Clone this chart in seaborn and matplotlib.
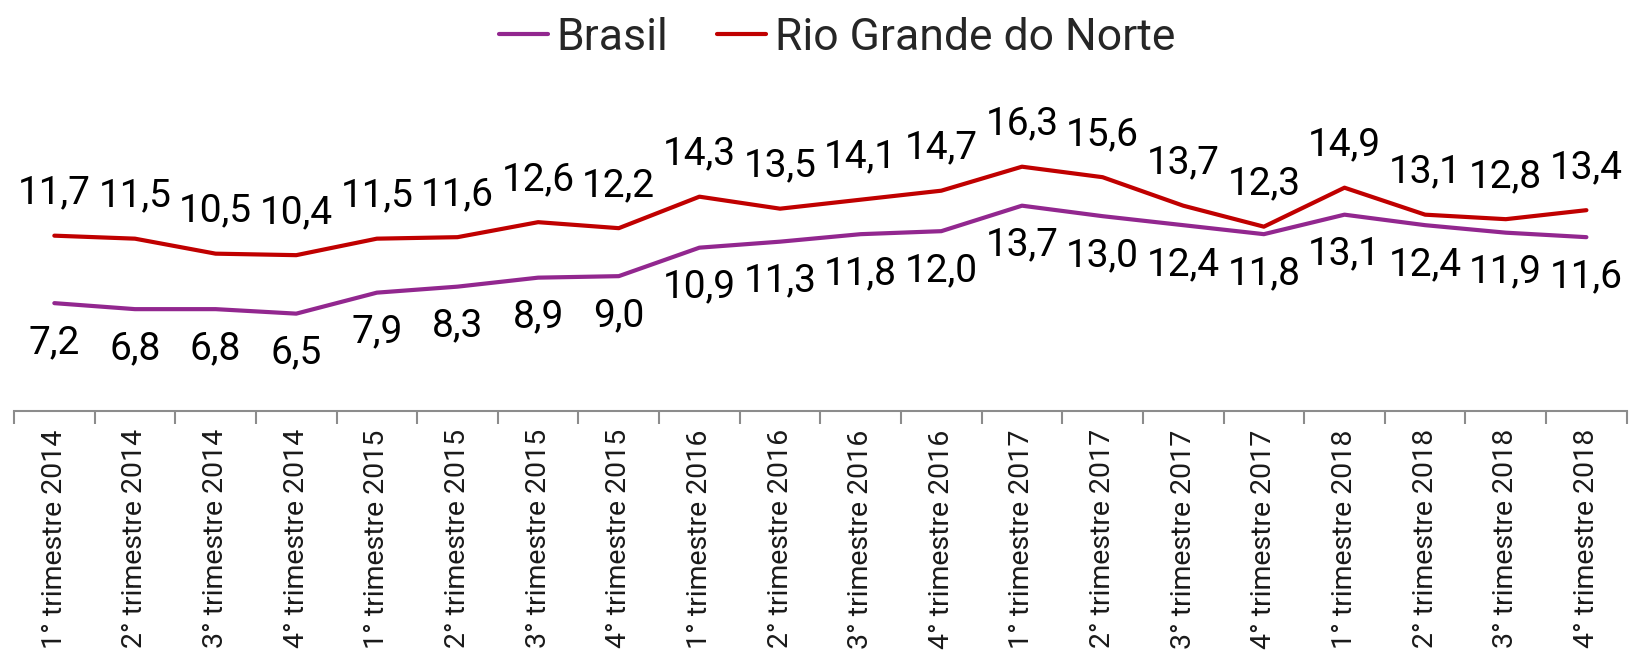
import matplotlib
matplotlib.use("Agg")
import matplotlib.pyplot as plt
import numpy as np
import pandas as pd
import seaborn as sns

quarters = [
    "1° trimestre 2014", "2° trimestre 2014", "3° trimestre 2014", "4° trimestre 2014",
    "1° trimestre 2015", "2° trimestre 2015", "3° trimestre 2015", "4° trimestre 2015",
    "1° trimestre 2016", "2° trimestre 2016", "3° trimestre 2016", "4° trimestre 2016",
    "1° trimestre 2017", "2° trimestre 2017", "3° trimestre 2017", "4° trimestre 2017",
    "1° trimestre 2018", "2° trimestre 2018", "3° trimestre 2018", "4° trimestre 2018",
]
brasil = [7.2, 6.8, 6.8, 6.5, 7.9, 8.3, 8.9, 9.0, 10.9, 11.3,
          11.8, 12.0, 13.7, 13.0, 12.4, 11.8, 13.1, 12.4, 11.9, 11.6]
rio_grande_do_norte = [11.7, 11.5, 10.5, 10.4, 11.5, 11.6, 12.6, 12.2, 14.3, 13.5,
                       14.1, 14.7, 16.3, 15.6, 13.7, 12.3, 14.9, 13.1, 12.8, 13.4]

series_names = ["Brasil", "Rio Grande do Norte"]
colors = {"Brasil": "#92278F", "Rio Grande do Norte": "#C00000"}

sns.set_theme(style="white")
plt.rcParams["font.family"] = ["Roboto", "DejaVu Sans"]

idx = np.arange(len(quarters))
df = pd.concat([
    pd.DataFrame({"pos": idx, "valor": brasil, "serie": "Brasil"}),
    pd.DataFrame({"pos": idx, "valor": rio_grande_do_norte, "serie": "Rio Grande do Norte"}),
])

fig = plt.figure(figsize=(16.29, 6.62), dpi=100)
ax = fig.add_axes([0.0086, 0.379, 0.990, 0.453])

sns.lineplot(data=df, x="pos", y="valor", hue="serie", hue_order=series_names,
             palette=colors, linewidth=3.0, ax=ax, legend=False)

def fmt(v):
    return f"{v:.1f}".replace(".", ",")

for x, v in zip(idx, rio_grande_do_norte):
    ax.annotate(fmt(v), (x, v), xytext=(0, 23), textcoords="offset points",
                ha="center", va="baseline", fontsize=28, color="black")
for x, v in zip(idx, brasil):
    ax.annotate(fmt(v), (x, v), xytext=(0, -15), textcoords="offset points",
                ha="center", va="top", fontsize=28, color="black")

ax.set_xlim(-0.5, len(quarters) - 0.5)
ax.set_ylim(0, 20)
ax.set_xticks(np.arange(-0.5, len(quarters), 1))
ax.set_xticklabels([])
ax.set_xticks(idx, minor=True)
ax.set_xticklabels(quarters, minor=True, rotation=90, fontsize=20.5, color="#1a1a1a")
ax.tick_params(axis="x", which="major", length=9, width=1.5, color="#8C8C8C", bottom=True)
ax.tick_params(axis="x", which="minor", length=0, pad=13, bottom=True)
ax.set_yticks([])
ax.set_xlabel("")
ax.set_ylabel("")
for side in ["top", "right", "left"]:
    ax.spines[side].set_visible(False)
ax.spines["bottom"].set_color("#8C8C8C")
ax.spines["bottom"].set_linewidth(1.5)

handles = [plt.Line2D([], [], color=colors[n], linewidth=3.0) for n in series_names]
fig.legend(handles, series_names, loc="upper center", bbox_to_anchor=(0.514, 1.015),
           ncol=2, frameon=False, fontsize=32, handlelength=1.1, handletextpad=0.2,
           columnspacing=1.1, borderaxespad=0.2)

fig.savefig("out.png", dpi=100)
